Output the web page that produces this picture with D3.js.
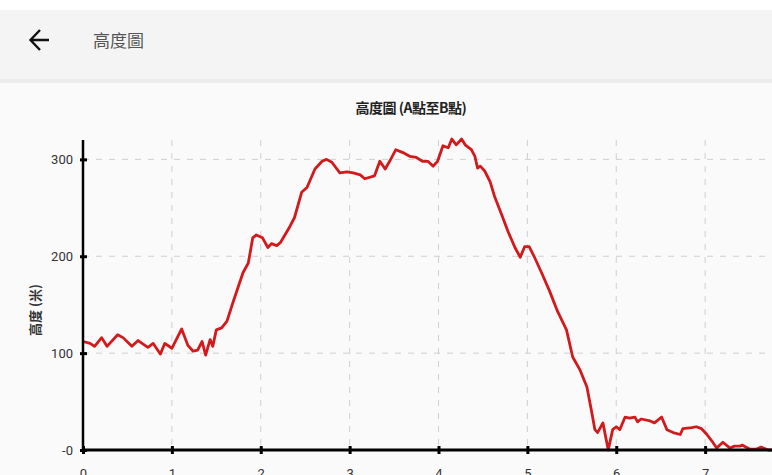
<!DOCTYPE html>
<html>
<head>
<meta charset="utf-8">
<script src="https://cdn.jsdelivr.net/npm/d3@7"></script>
<style>
  body { margin: 0; background: #fff; }
  svg { display: block; font-family: Roboto, "Noto Sans CJK TC", sans-serif; }
</style>
</head>
<body>
<svg id="chart" width="772" height="475"></svg>
<script>
var distKm = [0.00, 0.08, 0.13, 0.21, 0.27, 0.39, 0.45, 0.55, 0.62, 0.73, 0.79, 0.87, 0.92, 1.00,
  1.11, 1.18, 1.24, 1.29, 1.34, 1.38, 1.43, 1.46, 1.50, 1.56, 1.62, 1.69, 1.80, 1.86, 1.91, 1.95,
  2.02, 2.08, 2.12, 2.18, 2.22, 2.33, 2.38, 2.46, 2.52, 2.61, 2.69, 2.74, 2.80, 2.89, 2.97,
  3.04, 3.12, 3.17, 3.28, 3.34, 3.40, 3.45, 3.52, 3.60, 3.68, 3.75, 3.82, 3.88, 3.94, 3.99,
  4.05, 4.11, 4.15, 4.20, 4.26, 4.30, 4.37, 4.41, 4.44, 4.47, 4.52, 4.58, 4.63, 4.71, 4.78, 4.86, 4.92, 4.97,
  5.02, 5.08, 5.16, 5.25, 5.34, 5.44, 5.51, 5.59, 5.67, 5.72, 5.76, 5.79, 5.85, 5.91, 5.96,
  6.00, 6.04, 6.10, 6.15, 6.21, 6.24, 6.28, 6.38, 6.43, 6.51, 6.57, 6.64, 6.72, 6.75, 6.85, 6.90, 6.96,
  7.02, 7.07, 7.13, 7.20, 7.28, 7.33, 7.39, 7.42, 7.50, 7.58, 7.63, 7.71, 7.75];
var elevM = [112, 110, 107, 116, 107, 119, 116, 107, 113, 106, 110, 99, 110, 105,
  125, 108, 102, 103, 112, 98, 114, 107, 124, 126, 133, 153, 183, 193, 219, 222,
  219, 209, 213, 211, 214, 231, 240, 266, 271, 290, 298, 300, 297, 286, 287,
  286, 284, 280, 283, 298, 290, 298, 310, 307, 303, 302, 298, 298, 293, 298,
  314, 312, 321, 315, 321, 315, 310, 303, 291, 293, 288, 277, 262, 243, 226, 209, 199, 210,
  210, 199, 183, 164, 143, 124, 96, 83, 65, 41, 21, 18, 28, 0, 21,
  24, 21, 34, 33, 34, 29, 32, 30, 28, 34, 21, 18, 16, 22, 23, 24, 22,
  16, 10, 2, 8, 2, 4, 4, 5, 1, 1, 3, 0, 0];
var xTicks = [0, 1, 2, 3, 4, 5, 6, 7];
var yTicks = [0, 100, 200, 300];
var pageTitle = "高度圖";
var chartTitle = "高度圖 (A點至B點)";
var yLabel = "高度 (米)";

var svg = d3.select("#chart");

// page background + app bar
svg.append("rect").attr("width", 772).attr("height", 475).attr("fill", "#fafafa");
svg.append("rect").attr("y", 0).attr("width", 772).attr("height", 10).attr("fill", "#ffffff");
svg.append("rect").attr("y", 79).attr("width", 772).attr("height", 4).attr("fill", "#ececec");
svg.append("rect").attr("y", 10).attr("width", 772).attr("height", 69).attr("fill", "#f4f4f4");

svg.append("path")
    .attr("d", "M31,40 H49 M40,30 L30.5,40 L40,50")
    .attr("fill", "none")
    .attr("stroke", "#111")
    .attr("stroke-width", 2.4);
svg.append("text")
    .attr("x", 93).attr("y", 47)
    .attr("font-size", 17)
    .attr("fill", "#555")
    .attr("font-family", "'Noto Sans CJK TC', sans-serif")
    .text(pageTitle);

// chart
var x = d3.scaleLinear().domain([0, 8]).range([83, 794]);
var y = d3.scaleLinear().domain([0, 320]).range([450, 140]);

var grid = svg.append("g").attr("stroke", "#cfcfcf").attr("stroke-dasharray", "6,7").attr("stroke-width", 1);
grid.selectAll("line.v")
    .data(xTicks.filter(function(d){ return d > 0; }))
    .enter().append("line")
    .attr("x1", function(d){ return x(d); }).attr("x2", function(d){ return x(d); })
    .attr("y1", y(320)).attr("y2", y(0));
grid.selectAll("line.h")
    .data(yTicks.filter(function(d){ return d > 0; }))
    .enter().append("line")
    .attr("x1", x(0)).attr("x2", 772)
    .attr("y1", function(d){ return y(d); }).attr("y2", function(d){ return y(d); });

svg.append("text")
    .attr("x", 411).attr("y", 113)
    .attr("text-anchor", "middle")
    .attr("font-size", 14)
    .attr("font-weight", "bold")
    .attr("fill", "#222")
    .attr("font-family", "'Noto Sans CJK TC', sans-serif")
    .attr("letter-spacing", -0.5)
    .text(chartTitle);

svg.append("text")
    .attr("transform", "translate(40,310) rotate(-90)")
    .attr("text-anchor", "middle")
    .attr("font-size", 13)
    .attr("font-weight", "bold")
    .attr("fill", "#333")
    .attr("font-family", "'Noto Sans CJK TC', sans-serif")
    .text(yLabel);

var line = d3.line()
    .x(function(d, i){ return x(distKm[i]); })
    .y(function(d){ return y(d); });

svg.append("path")
    .datum(elevM)
    .attr("d", line)
    .attr("fill", "none")
    .attr("stroke", "#d3191c")
    .attr("stroke-width", 2.8)
    .attr("stroke-linejoin", "round");

var yAxis = svg.append("g")
    .attr("transform", "translate(" + x(0) + ",0)")
    .call(d3.axisLeft(y).tickValues(yTicks).tickSize(4).tickPadding(6)
        .tickFormat(function(d){ return d === 0 ? "-0" : d; }));
yAxis.select(".domain").attr("d", "M0," + y(320) + "V" + y(0)).attr("stroke", "#000").attr("stroke-width", 2.5);
yAxis.selectAll(".tick line").attr("x2", 4).attr("x1", -3).attr("stroke", "#000").attr("stroke-width", 3);
yAxis.selectAll(".tick text").attr("font-size", 13).attr("fill", "#333").attr("font-family", "Roboto, sans-serif");

var xAxis = svg.append("g")
    .attr("transform", "translate(0," + y(0) + ")")
    .call(d3.axisBottom(x).tickValues(xTicks).tickSize(4).tickPadding(15)
        .tickFormat(d3.format("d")));
xAxis.select(".domain").attr("d", "M" + x(0) + ",0H772").attr("stroke", "#000").attr("stroke-width", 3);
xAxis.selectAll(".tick line").attr("y1", -4).attr("y2", 4).attr("stroke", "#000").attr("stroke-width", 3);
xAxis.selectAll(".tick text").attr("font-size", 13).attr("fill", "#333").attr("font-family", "Roboto, sans-serif");
</script>
</body>
</html>
